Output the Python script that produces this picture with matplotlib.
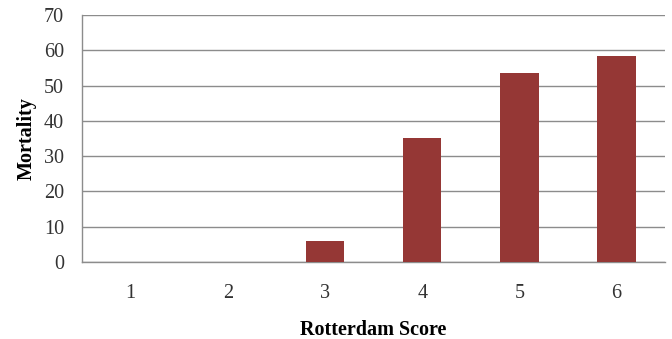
import matplotlib
matplotlib.use("Agg")
import matplotlib.pyplot as plt

# Rotterdam score vs. mortality (%)
scores = ["1", "2", "3", "4", "5", "6"]
mortality = [0, 0, 6, 35, 53.6, 58.3]
y_ticks = [0, 10, 20, 30, 40, 50, 60, 70]

plt.rcParams["font.family"] = ["Liberation Serif", "DejaVu Serif"]

fig = plt.figure(figsize=(6.72, 3.39), dpi=100)
ax = fig.add_axes([0.122, 0.227, 0.868, 0.729])

x = list(range(len(scores)))
ax.bar(x, mortality, width=0.395, color="#953735", zorder=3)

ax.set_xlim(-0.5, len(scores) - 0.5)
ax.set_ylim(0, 70)
ax.set_yticks(y_ticks)
ax.set_xticks(x)
ax.set_xticklabels(scores)
ax.yaxis.grid(True, color="#8c8c8c", linewidth=1.0, zorder=0)

for side in ("top", "right"):
    ax.spines[side].set_visible(False)
for side in ("left", "bottom"):
    ax.spines[side].set_color("#8c8c8c")
    ax.spines[side].set_linewidth(1.0)

ax.tick_params(axis="both", length=0, labelsize=14.5, labelcolor="#333333")
ax.tick_params(axis="y", pad=13)
ax.tick_params(axis="x", pad=16)

ax.set_xlabel("Rotterdam Score", fontsize=14.5, fontweight="bold", labelpad=12)
ax.set_ylabel("Mortality", fontsize=14.5, fontweight="bold", labelpad=5)

fig.savefig("out.png", dpi=100)
plt.close(fig)
